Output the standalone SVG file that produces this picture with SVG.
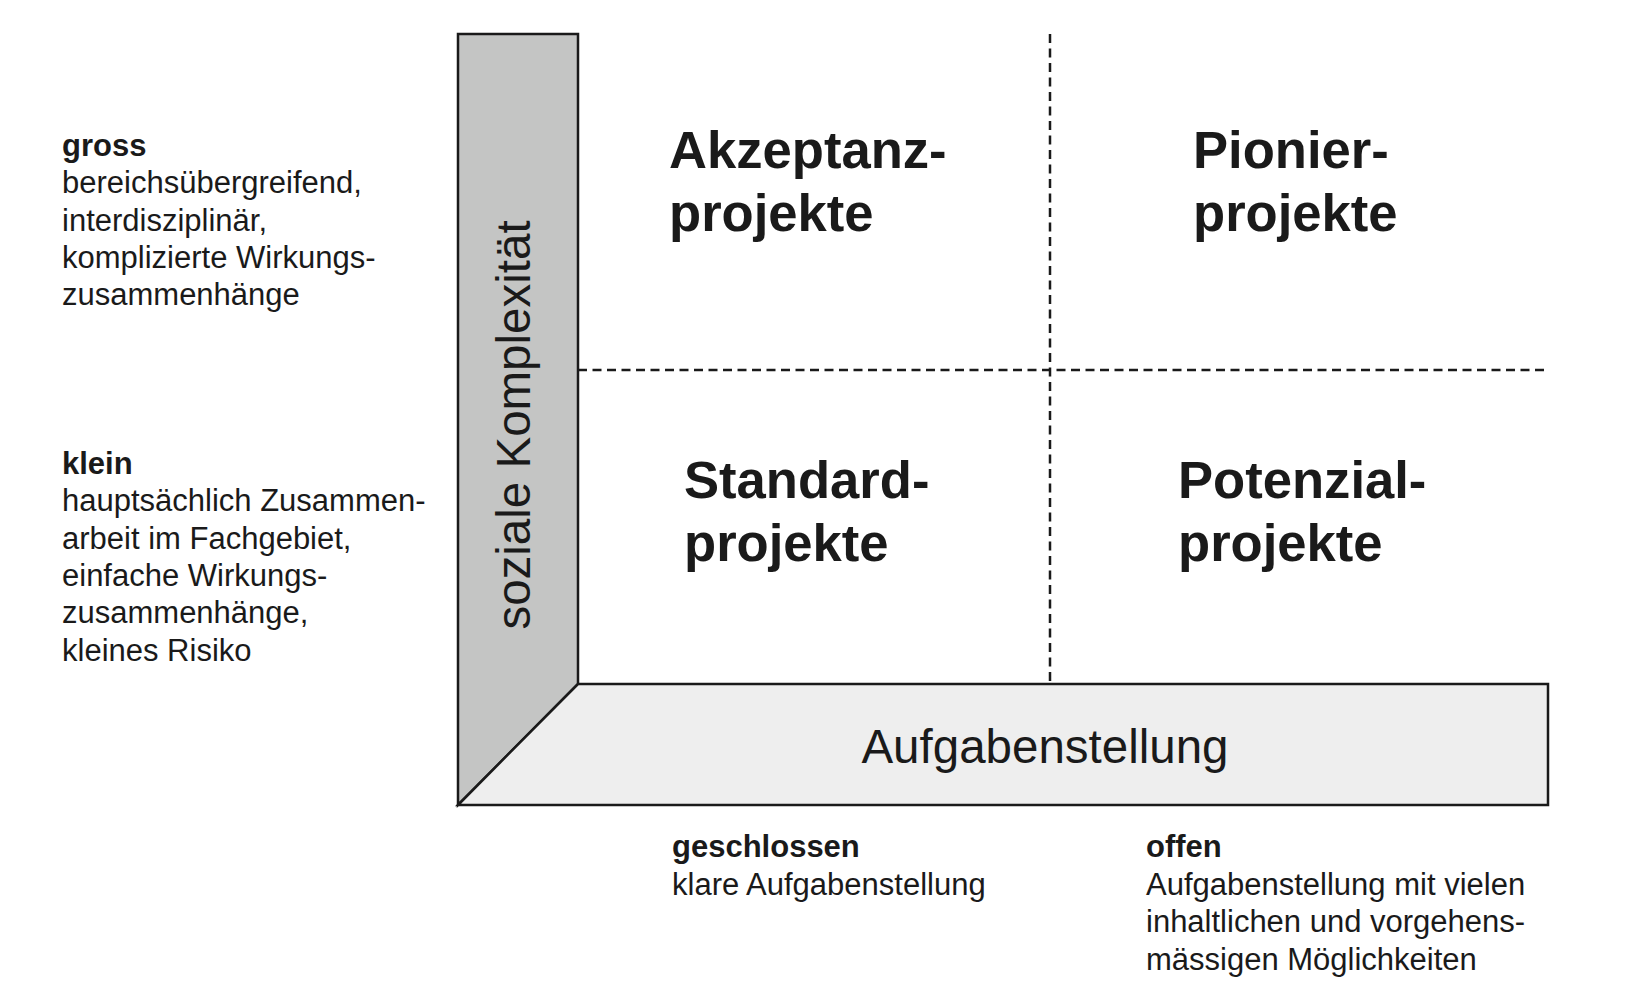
<svg xmlns="http://www.w3.org/2000/svg" width="1638" height="998" viewBox="0 0 1638 998">
  <style>
    .axis { stroke: #1a1a1a; stroke-width: 2.5; stroke-linejoin: miter; }
    .grid { stroke: #1a1a1a; stroke-width: 2.5; stroke-dasharray: 9 5.5; fill: none; }
    .big { font-family: "Liberation Sans", Arial, sans-serif; font-weight: bold; font-size: 52.6px; fill: #1a1a1a; }
    .axlabel { font-family: "Liberation Sans", Arial, sans-serif; font-size: 47.5px; fill: #1a1a1a; }
    .desc { font-family: "Liberation Sans", Arial, sans-serif; font-size: 31px; fill: #1a1a1a; }
    .desc .b { font-weight: bold; }
  </style>
  <rect width="1638" height="998" fill="#ffffff"/>

  <!-- quadrant separators -->
  <g id="grid">
    <line class="grid" x1="1050" y1="34" x2="1050" y2="684"/>
    <line class="grid" x1="578" y1="370" x2="1548" y2="370"/>
  </g>

  <!-- vertical axis: social complexity -->
  <g id="axis-social">
    <polygon class="axis" points="458,34 578,34 578,684 458,805" fill="#c4c5c4"/>
    <text class="axlabel" transform="translate(530,425) rotate(-90)" text-anchor="middle">soziale Komplexität</text>
  </g>

  <!-- horizontal axis: task definition -->
  <g id="axis-task">
    <polygon class="axis" points="458,805 578,684 1548,684 1548,805" fill="#eeeeee"/>
    <text class="axlabel" x="1045" y="763" text-anchor="middle">Aufgabenstellung</text>
  </g>

  <!-- quadrants -->
  <g id="akzeptanz">
    <text class="big" x="669" y="168">Akzeptanz-</text>
    <text class="big" x="669" y="231">projekte</text>
  </g>
  <g id="pionier">
    <text class="big" x="1193" y="168">Pionier-</text>
    <text class="big" x="1193" y="231">projekte</text>
  </g>
  <g id="standard">
    <text class="big" x="684" y="498">Standard-</text>
    <text class="big" x="684" y="561">projekte</text>
  </g>
  <g id="potenzial">
    <text class="big" x="1178" y="498">Potenzial-</text>
    <text class="big" x="1178" y="561">projekte</text>
  </g>

  <!-- level descriptions, vertical axis -->
  <g id="gross" class="desc">
    <text x="62" y="156" class="b">gross</text>
    <text x="62" y="193.3">bereichsübergreifend,</text>
    <text x="62" y="230.6">interdisziplinär,</text>
    <text x="62" y="267.9">komplizierte Wirkungs-</text>
    <text x="62" y="305.2">zusammenhänge</text>
  </g>
  <g id="klein" class="desc">
    <text x="62" y="474" class="b">klein</text>
    <text x="62" y="511.3">hauptsächlich Zusammen-</text>
    <text x="62" y="548.6">arbeit im Fachgebiet,</text>
    <text x="62" y="585.9">einfache Wirkungs-</text>
    <text x="62" y="623.2">zusammenhänge,</text>
    <text x="62" y="660.5">kleines Risiko</text>
  </g>

  <!-- level descriptions, horizontal axis -->
  <g id="geschlossen" class="desc">
    <text x="672" y="857" class="b">geschlossen</text>
    <text x="672" y="894.5">klare Aufgabenstellung</text>
  </g>
  <g id="offen" class="desc">
    <text x="1146" y="857" class="b">offen</text>
    <text x="1146" y="894.5">Aufgabenstellung mit vielen</text>
    <text x="1146" y="932">inhaltlichen und vorgehens-</text>
    <text x="1146" y="969.5">mässigen Möglichkeiten</text>
  </g>
</svg>
